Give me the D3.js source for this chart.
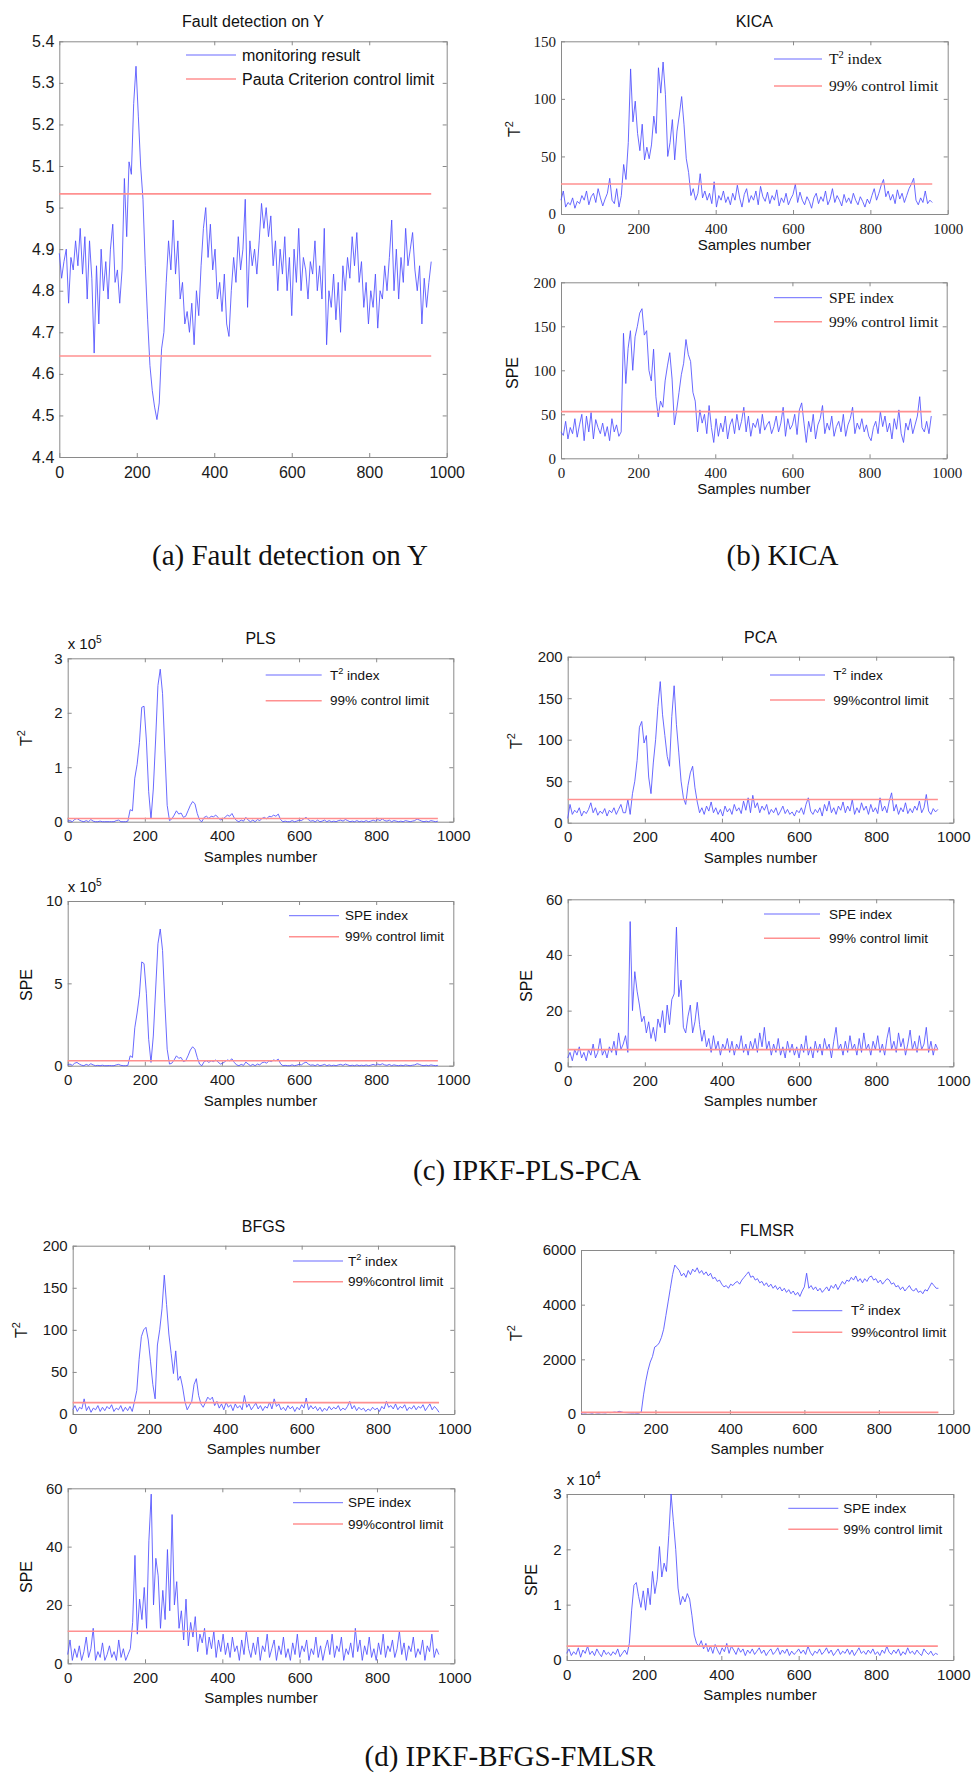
<!DOCTYPE html>
<html lang="en">
<head>
<meta charset="utf-8">
<script src="https://cdn.jsdelivr.net/npm/d3@7"></script>
<style>
  body { margin: 0; background: #fff; }
  .frame path.domain, .frame line { stroke: #8a8a8a; }
  .frame text { fill: #1a1a1a; }
</style>
</head>
<body>
<div id="chart"></div>
<script type="text/javascript">

    var svgWidth = 975;
    var svgHeight = 1774;

    /* one value every 6 samples, 0 .. 960 */
    var sampleStep = 6;
    var xTicks = [0, 200, 400, 600, 800, 1000];

    /* (a) monitoring result on Y */
    var faultY = [
        4.89, 4.83, 4.87, 4.90, 4.77, 4.88, 4.85, 4.92, 4.86, 4.95,
        4.84, 4.93, 4.78, 4.92, 4.83, 4.65, 4.86, 4.72, 4.90, 4.80,
        4.87, 4.78, 4.90, 4.96, 4.82, 4.85, 4.77, 4.85, 5.07, 4.93,
        5.11, 5.08, 5.25, 5.34, 5.22, 5.10, 5.02, 4.86, 4.73, 4.62,
        4.56, 4.52, 4.49, 4.53, 4.66, 4.70, 4.82, 4.92, 4.85, 4.97,
        4.84, 4.92, 4.78, 4.82, 4.72, 4.75, 4.70, 4.77, 4.67, 4.80,
        4.74, 4.86, 4.95, 5.00, 4.88, 4.96, 4.85, 4.90, 4.78, 4.82,
        4.75, 4.84, 4.72, 4.69, 4.80, 4.88, 4.82, 4.93, 4.85, 4.90,
        5.02, 4.76, 4.92, 4.86, 4.90, 4.84, 4.92, 5.01, 4.95, 5.00,
        4.93, 4.98, 4.86, 4.92, 4.80, 4.90, 4.84, 4.93, 4.80, 4.88,
        4.74, 4.90, 4.82, 4.95, 4.80, 4.88, 4.85, 4.78, 4.87, 4.84,
        4.92, 4.80, 4.86, 4.78, 4.95, 4.67, 4.80, 4.76, 4.84, 4.73,
        4.82, 4.70, 4.86, 4.80, 4.88, 4.83, 4.93, 4.86, 4.94, 4.82,
        4.87, 4.76, 4.82, 4.72, 4.80, 4.76, 4.84, 4.71, 4.80, 4.78,
        4.86, 4.80, 4.88, 4.97, 4.80, 4.90, 4.78, 4.88, 4.82, 4.95,
        4.86, 4.90, 4.94, 4.85, 4.80, 4.86, 4.72, 4.83, 4.76, 4.82,
        4.87];
    var faultLimits = [5.033, 4.643];

    /* (b) KICA */
    var kicaT2 = [
        12, 20, 6, 10, 8, 14, 5, 11, 9, 16,
        12, 20, 8, 15, 18, 10, 22, 14, 7, 13,
        18, 31, 12, 9, 22, 6, 16, 43, 30, 62,
        126, 80, 98, 70, 55, 78, 47, 58, 48, 60,
        85, 70, 127, 105, 132, 104, 50, 62, 82, 47,
        72, 86, 102, 78, 48, 36, 16, 22, 12, 18,
        35, 14, 20, 12, 18, 9, 28, 6, 16, 12,
        20, 10, 15, 8, 18, 12, 25, 14, 6, 17,
        22, 10, 16, 12, 20, 8, 24, 15, 11, 19,
        9, 16, 12, 21, 7, 14, 10, 18, 8, 13,
        17, 26, 10, 19, 12, 8, 15, 11, 5, 14,
        18, 9, 15, 11, 20, 8, 13, 22, 10, 16,
        12, 7, 17, 10, 14, 9, 18, 12, 8, 15,
        11, 6, 13, 9, 16, 22, 12, 18, 25, 30,
        15, 20, 12, 17, 9, 21, 13, 18, 10, 16,
        22, 26, 31, 12, 8, 14, 10, 20, 9, 12,
        10];
    var kicaSPE = [
        30, 26, 42, 22, 35, 28, 45, 24, 38, 50,
        20, 48, 30, 52, 22, 44, 35, 28, 40, 25,
        36, 20, 45, 30, 38, 25, 30, 142, 85, 125,
        145, 100, 138, 150, 165, 170, 140, 145, 100, 88,
        124, 70, 47, 65, 58, 88, 105, 120, 90, 38,
        55, 75, 95, 108, 135, 118, 110, 75, 65, 30,
        55, 40, 50, 28, 60, 35, 18, 45, 25, 40,
        30, 48, 22, 38, 45, 28, 50, 32, 42, 58,
        30, 48, 25, 40, 35, 45, 28, 50, 32, 38,
        42, 28, 36, 48, 30, 40, 58, 25, 45, 33,
        38, 50, 27, 55, 63, 40, 18, 42, 30, 50,
        22, 38, 45, 60, 28, 40, 32, 48, 25, 36,
        42, 30, 50, 25, 38, 45, 58, 28, 40, 33,
        45, 30, 38, 25, 20, 35, 42, 28, 53, 36,
        48, 30, 40, 22, 45, 33, 55, 28, 18, 40,
        32, 45, 28, 38, 48, 70, 35, 30, 42, 28,
        48];
    var kicaLimits = [26, 53];

    /* (c) PLS, values in units of 1e5 */
    var plsT2 = [
        0.01, 0.02, 0.0, 0.04, 0.06, 0.03, 0.01, 0.0, 0.02, 0.0,
        0.04, 0.01, 0.0, 0.0, 0.01, 0.0, 0.0, 0.0, 0.0, 0.0,
        0.0, 0.02, 0.03, 0.0, 0.0, 0.0, 0.01, 0.22, 0.2, 0.8,
        1.05, 1.45, 2.1, 2.12, 1.5, 0.55, 0.05, 0.6, 1.5, 2.5,
        2.8, 2.35, 1.3, 0.3, 0.02, 0.05, 0.12, 0.2, 0.14, 0.16,
        0.08, 0.1, 0.2, 0.3, 0.37, 0.33, 0.15, 0.03, 0.0, 0.08,
        0.1, 0.06, 0.1, 0.09, 0.12, 0.08, 0.03, 0.05, 0.08, 0.12,
        0.1, 0.15, 0.07, 0.02, 0.0, 0.03, 0.01, 0.08, 0.03, 0.0,
        0.03, 0.0, 0.04, 0.02, 0.06, 0.08, 0.05, 0.1, 0.09, 0.12,
        0.1, 0.14, 0.04, 0.0, 0.01, 0.0, 0.0, 0.02, 0.0, 0.01,
        0.03, 0.02, 0.05, 0.08, 0.04, 0.01, 0.02, 0.0, 0.03, 0.0,
        0.01, 0.03, 0.0, 0.02, 0.0, 0.01, 0.0, 0.02, 0.03, 0.01,
        0.04, 0.02, 0.0, 0.01, 0.0, 0.02, 0.0, 0.01, 0.0, 0.02,
        0.0, 0.01, 0.03, 0.01, 0.04, 0.02, 0.05, 0.02, 0.01, 0.03,
        0.0, 0.02, 0.01, 0.0, 0.01, 0.0, 0.02, 0.01, 0.0, 0.01,
        0.02, 0.05, 0.03, 0.01, 0.0, 0.01, 0.0, 0.02, 0.01, 0.0,
        0.01];
    var plsSPE = [
        0.05, 0.1, 0.02, 0.15, 0.2, 0.1, 0.03, 0.0, 0.08, 0.02,
        0.12, 0.05, 0.0, 0.02, 0.0, 0.03, 0.0, 0.0, 0.01, 0.0,
        0.0, 0.05, 0.08, 0.02, 0.0, 0.0, 0.02, 0.6, 0.5, 2.3,
        3.2, 4.3, 6.3, 6.2, 4.4, 1.6, 0.2, 1.8, 4.6, 7.4,
        8.3, 7.0, 3.8, 1.0, 0.1, 0.15, 0.35, 0.6, 0.45, 0.5,
        0.25, 0.3, 0.6, 0.95, 1.15, 1.0, 0.5, 0.1, 0.0, 0.25,
        0.3, 0.2, 0.3, 0.25, 0.35, 0.22, 0.1, 0.15, 0.25, 0.35,
        0.3, 0.42, 0.2, 0.05, 0.0, 0.08, 0.02, 0.22, 0.1, 0.0,
        0.08, 0.0, 0.1, 0.05, 0.18, 0.22, 0.15, 0.3, 0.25, 0.35,
        0.3, 0.4, 0.12, 0.0, 0.02, 0.0, 0.0, 0.05, 0.0, 0.03,
        0.08, 0.05, 0.15, 0.22, 0.1, 0.03, 0.05, 0.0, 0.08, 0.0,
        0.03, 0.08, 0.0, 0.05, 0.0, 0.03, 0.0, 0.05, 0.08, 0.02,
        0.1, 0.05, 0.0, 0.03, 0.0, 0.05, 0.0, 0.03, 0.0, 0.05,
        0.0, 0.03, 0.08, 0.03, 0.1, 0.05, 0.12, 0.05, 0.02, 0.08,
        0.0, 0.05, 0.02, 0.0, 0.03, 0.0, 0.05, 0.02, 0.0, 0.03,
        0.05, 0.12, 0.08, 0.02, 0.0, 0.03, 0.0, 0.05, 0.02, 0.0,
        0.02];
    var plsLimits = [0.06, 0.3];

    /* (c) PCA */
    var pcaT2 = [
        5, 22, 10, 15, 12, 18, 8, 14, 11, 16,
        24, 12, 18, 9, 14, 11, 17, 8, 15, 12,
        18, 10, 16, 22, 12, 12, 28, 10, 35, 50,
        75, 115, 122, 96, 105, 55, 35, 72, 100, 140,
        170, 130, 105, 80, 68, 128, 165, 118, 85, 50,
        30, 22, 45, 60, 68, 42, 25, 12, 18, 10,
        20, 14, 25, 12, 18, 10, 16, 8, 20, 13,
        17, 10, 22, 14, 18, 11, 26, 15, 30, 12,
        33, 18, 24, 12, 20, 15, 22, 10, 16, 12,
        18, 9, 14, 20, 11, 16, 10, 13, 8, 15,
        12, 18, 10, 22, 30, 14, 10, 16, 12, 18,
        8, 22, 14, 26, 12, 18, 10, 20, 15, 25,
        12, 20, 14, 28, 10, 18, 12, 24, 15, 20,
        10, 22, 13, 18, 11, 30, 14, 20, 12, 26,
        36, 14, 22, 10, 18, 13, 24, 11, 17, 12,
        20, 15, 26, 12, 18, 34, 14, 10, 17, 13,
        16];
    var pcaSPE = [
        3, 5, 2, 6, 4, 7, 3, 5, 2, 6,
        4, 8, 3, 5, 10, 4, 6, 3, 7, 5,
        9, 4, 12, 6, 8, 11, 5, 52, 20, 34,
        27, 22, 16, 18, 12, 16, 10, 14, 9, 17,
        14, 20, 12, 22, 15, 24, 26, 50, 25, 31,
        14, 12, 18, 22, 12, 16, 23, 15, 9, 13,
        7, 10, 5, 11, 6, 9, 4, 8, 6, 10,
        5, 9, 4, 8, 6, 11, 5, 8, 4, 9,
        6, 10, 5, 12, 7, 14, 6, 9, 4, 8,
        5, 10, 4, 7, 3, 9, 5, 8, 4, 7,
        3, 8, 5, 11, 4, 7, 3, 9, 5, 8,
        4, 10, 6, 8, 3, 9, 14, 6, 8, 4,
        9, 5, 11, 6, 8, 4, 10, 5, 12, 6,
        8, 4, 9, 6, 11, 5, 8, 4, 10, 14,
        6, 9, 5, 12, 7, 10, 4, 8, 13, 6,
        9, 5, 11, 6, 8, 14, 5, 9, 4, 8,
        6];
    var pcaLimits = [28, 6];

    /* (d) BFGS */
    var bfgsT2 = [
        5, 10, 3, 8, 6, 18, 4, 9, 2, 7,
        5, 10, 3, 8, 4, 9, 6, 11, 3, 7,
        5, 10, 3, 8, 4, 9, 3, 15, 28, 65,
        92, 100, 103, 88, 62, 35, 18, 82, 100, 125,
        165, 130, 95, 72, 48, 75, 40, 45, 32, 15,
        5, 10, 15, 35, 42, 22, 12, 8, 14, 20,
        17, 20, 10, 15, 7, 12, 5, 14, 8, 11,
        4, 12, 7, 10, 5, 22, 8, 12, 5, 9,
        13, 6, 10, 4, 9, 7, 14, 6, 18, 9,
        12, 5, 8, 4, 10, 6, 9, 3, 8, 5,
        11, 7, 19, 5, 10, 6, 9, 4, 8, 3,
        7, 4, 9, 5, 8, 6, 10, 4, 7, 5,
        9, 15, 6, 10, 4, 8, 5, 7, 3, 6,
        4, 8, 5, 7, 3, 9, 6, 15, 8, 10,
        6, 12, 5, 9, 7, 11, 4, 8, 6, 10,
        5, 9, 7, 11, 4, 8, 12, 5, 9, 6,
        2];
    var bfgsSPE = [
        3, 8, 1, 5, 2, 6, 1, 4, 9, 2,
        5, 12, 1, 4, 2, 7, 1, 3, 6, 2,
        4, 1, 8, 2, 5, 1, 3, 5, 14, 37,
        10, 22, 15, 26, 12, 42, 58, 20, 36, 30,
        12, 25, 15, 39, 18, 51, 20, 28, 12, 18,
        8, 22, 6, 14, 9, 16, 4, 10, 7, 12,
        3, 9, 5, 11, 2, 8, 4, 10, 3, 7,
        2, 9, 4, 6, 1, 8, 3, 11, 5, 2,
        7, 3, 9, 1, 6, 4, 10, 2, 5, 8,
        1, 6, 3, 9, 2, 5, 1, 7, 3, 10,
        2, 6, 4, 8, 1, 5, 3, 9, 2, 6,
        1, 5, 8, 3, 10, 2, 6, 4, 9, 1,
        5, 3, 7, 2, 12, 4, 8, 1, 6, 3,
        9, 2, 5, 1, 7, 3, 10, 2, 6, 4,
        8, 2, 5, 11, 3, 7, 1, 6, 4, 9,
        2, 5, 3, 8, 1, 6, 4, 10, 2, 5,
        3];
    var bfgsLimits = [13.5, 11];

    /* (d) FLMSR, SPE in units of 1e4 */
    var flmsrT2 = [
        30, 40, 35, 50, 45, 30, 55, 40, 35, 50,
        45, 40, 60, 50, 55, 70, 60, 100, 80, 55,
        50, 45, 40, 35, 40, 30, 35, 80, 700, 1200,
        1600, 1900, 2100, 2450, 2500, 2600, 2800, 3100, 3600, 4100,
        4600, 5100, 5450, 5350, 5250, 5050, 5150, 5000, 5250, 5100,
        5300, 5200, 5350, 5150, 5250, 5100, 5200, 5050, 5150, 4950,
        5000, 4850, 4900, 4750, 4650, 4700, 4600, 4750, 4700, 4800,
        4850, 4750, 4900, 5000, 5100, 5200, 5000, 5050, 4900, 4950,
        4800, 4850, 4700, 4800, 4650, 4750, 4600, 4700, 4550, 4650,
        4500, 4600, 4450, 4550, 4400, 4500, 4350, 4450, 4300, 4500,
        4650, 5150, 4600, 4700, 4550, 4650, 4500, 4600, 4450, 4550,
        4650, 4500, 4700, 4600, 4750, 4550, 4700, 4850, 4750, 4900,
        4850, 5000, 4900, 5050, 4850, 4950, 4800, 4950, 4850, 5000,
        5050, 4900, 4950, 4800, 4900, 4750, 4850, 4950, 4900, 4750,
        4800, 4650, 4700, 4550, 4650, 4500, 4600, 4700, 4550, 4500,
        4600, 4450, 4500, 4400, 4550, 4500, 4650, 4800, 4700, 4600,
        4600];
    var flmsrSPE = [
        0.12, 0.2, 0.08, 0.15, 0.1, 0.22, 0.05, 0.18, 0.12, 0.25,
        0.1, 0.16, 0.08, 0.2, 0.12, 0.06, 0.18, 0.1, 0.14, 0.08,
        0.15, 0.1, 0.2, 0.06, 0.12, 0.18, 0.1, 0.3, 0.9, 1.35,
        1.4, 1.15, 0.95, 1.25, 0.9, 1.3, 1.0, 1.6, 1.2, 1.45,
        2.05, 1.5, 1.75, 1.6, 2.25, 3.0, 2.5, 2.0, 1.3, 1.0,
        1.15, 1.05, 1.2, 1.1, 0.8, 0.45, 0.3, 0.25, 0.35, 0.2,
        0.3, 0.15, 0.25, 0.12, 0.28, 0.18, 0.1, 0.22, 0.15, 0.3,
        0.12, 0.25, 0.18, 0.1, 0.22, 0.14, 0.2, 0.08, 0.18, 0.12,
        0.2, 0.1, 0.16, 0.22, 0.12, 0.18, 0.08, 0.15, 0.2, 0.1,
        0.15, 0.22, 0.1, 0.18, 0.12, 0.2, 0.08, 0.16, 0.1, 0.14,
        0.2, 0.12, 0.18, 0.1, 0.25, 0.14, 0.08, 0.16, 0.12, 0.2,
        0.1, 0.15, 0.22, 0.12, 0.18, 0.08, 0.14, 0.2, 0.1, 0.16,
        0.12, 0.2, 0.1, 0.18, 0.08, 0.15, 0.22, 0.12, 0.16, 0.1,
        0.18, 0.12, 0.2, 0.1, 0.15, 0.08, 0.18, 0.12, 0.25, 0.14,
        0.1, 0.18, 0.12, 0.2, 0.08, 0.15, 0.1, 0.22, 0.12, 0.16,
        0.1, 0.18, 0.12, 0.08, 0.2, 0.14, 0.1, 0.16, 0.08, 0.12,
        0.1];
    var flmsrLimits = [60, 0.25];

    var captions = ["(a) Fault detection on Y", "(b) KICA", "(c) IPKF-PLS-PCA", "(d) IPKF-BFGS-FMLSR"];

    var sans = "Arial, 'Liberation Sans', Helvetica, sans-serif";
    var serif = "'Times New Roman', 'Liberation Serif', Times, serif";
    var blue = "#4f4fff";
    var red = "#ff9090";

    var svg = d3.select("#chart").append("svg")
            .attr("width", svgWidth)
            .attr("height", svgHeight)
            .style("background", "#fff");

    /* plain strings, or {raise: "2"} for a superscript; the text after a
       superscript drops back to the baseline */
    function richText(sel, parts, size) {
        var back = 0;
        parts.forEach(function(p) {
            if (typeof p === "string") {
                var s = sel.append("tspan").text(p);
                if (back) s.attr("dy", back);
                back = 0;
            } else {
                sel.append("tspan").attr("font-size", size * 0.68).attr("dy", -size * 0.42).text(p.raise);
                back = size * 0.42;
            }
        });
    }

    function drawPanel(o) {
        var x = d3.scaleLinear().domain([0, 1000]).range([o.l, o.r]);
        var y = d3.scaleLinear().domain([o.yTicks[0], o.yTicks[o.yTicks.length - 1]]).range([o.b, o.t]);
        var tickFont = o.tickFont || sans;
        var fmt = d3.format("~g");

        var g = svg.append("g");

        /* frame + ticks on all four sides, pointing inward */
        var axes = [
            {axis: d3.axisBottom(x).tickValues(xTicks).tickFormat(fmt).tickPadding(o.xPad || 9), tr: "translate(0," + o.b + ")"},
            {axis: d3.axisTop(x).tickValues(xTicks).tickFormat(""), tr: "translate(0," + o.t + ")"},
            {axis: d3.axisLeft(y).tickValues(o.yTicks).tickFormat(fmt).tickPadding(5), tr: "translate(" + o.l + ",0)"},
            {axis: d3.axisRight(y).tickValues(o.yTicks).tickFormat(""), tr: "translate(" + o.r + ",0)"}
        ];
        axes.forEach(function(a) {
            g.append("g")
                    .attr("class", "frame")
                    .attr("transform", a.tr)
                    .call(a.axis.tickSizeInner(-4).tickSizeOuter(0))
                    .attr("font-family", tickFont)
                    .attr("font-size", o.tickSize || 15);
        });

        /* monitoring statistic */
        var line = d3.line()
                .x(function(d, i) { return x(i * sampleStep); })
                .y(function(d) { return y(d); });

        g.append("path")
                .datum(o.values)
                .attr("d", line)
                .attr("fill", "none")
                .attr("stroke", blue)
                .attr("stroke-width", 0.85)
                .attr("stroke-linejoin", "round");

        /* control limit(s) */
        o.limits.forEach(function(v) {
            g.append("line")
                    .attr("x1", x(0)).attr("x2", x((o.values.length - 1) * sampleStep))
                    .attr("y1", y(v)).attr("y2", y(v))
                    .attr("stroke", red)
                    .attr("stroke-width", 1.6);
        });

        /* legend */
        var lf = o.legFont || sans;
        o.legend.forEach(function(item, i) {
            var ly = o.legY[i];
            g.append("line")
                    .attr("x1", o.legX[0]).attr("x2", o.legX[1])
                    .attr("y1", ly).attr("y2", ly)
                    .attr("stroke", i === 0 ? blue : red)
                    .attr("stroke-width", i === 0 ? 0.85 : 1.6);
            var t = g.append("text")
                    .attr("x", o.legX[2]).attr("y", ly)
                    .attr("dy", "0.35em")
                    .attr("font-family", lf)
                    .attr("font-size", o.legSize)
                    .attr("fill", "#111");
            richText(t, item, o.legSize);
        });

        /* title */
        if (o.title) {
            g.append("text")
                    .attr("x", (o.l + o.r) / 2).attr("y", o.t - 14)
                    .attr("text-anchor", "middle")
                    .attr("font-family", sans).attr("font-size", 16)
                    .attr("fill", "#111")
                    .text(o.title);
        }

        /* x 10^n */
        if (o.expo) {
            var e = g.append("text")
                    .attr("x", o.expoX || o.l).attr("y", o.t - 9)
                    .attr("font-family", sans).attr("font-size", 15)
                    .attr("fill", "#111");
            richText(e, ["x 10", {raise: o.expo}], 15);
        }

        /* y label */
        if (o.yLabel) {
            var yl = g.append("text")
                    .attr("transform", "translate(" + o.yLabel[0] + "," + o.yLabel[1] + ") rotate(-90)")
                    .attr("text-anchor", "middle")
                    .attr("font-family", sans).attr("font-size", 16)
                    .attr("fill", "#111");
            richText(yl, o.yLabel[2], 16);
        }

        /* x label */
        if (o.xLabel) {
            g.append("text")
                    .attr("x", (o.l + o.r) / 2).attr("y", o.b + o.xLabel)
                    .attr("text-anchor", "middle")
                    .attr("font-family", sans).attr("font-size", 15)
                    .attr("fill", "#111")
                    .text("Samples number");
        }
    }

    var T2 = ["T", {raise: "2"}];
    var T2idx = ["T", {raise: "2"}, " index"];

    /* (a) */
    drawPanel({l: 59.3, r: 446.7, t: 41.3, b: 457, values: faultY, limits: faultLimits,
        yTicks: [4.4, 4.5, 4.6, 4.7, 4.8, 4.9, 5, 5.1, 5.2, 5.3, 5.4], tickSize: 16, xPad: 10,
        title: "Fault detection on Y",
        legend: [["monitoring result"], ["Pauta Criterion control limit"]],
        legX: [186, 236, 242], legY: [55, 79], legSize: 16});

    /* (b) KICA */
    drawPanel({l: 561, r: 947.7, t: 41.3, b: 214, values: kicaT2, limits: [kicaLimits[0]],
        yTicks: [0, 50, 100, 150], tickFont: serif, tickSize: 15,
        title: "KICA", yLabel: [520, 129, T2], xLabel: 36,
        legend: [T2idx, ["99% control limit"]], legFont: serif,
        legX: [774, 822, 829], legY: [59, 86], legSize: 15.5});
    drawPanel({l: 561, r: 946.7, t: 282.3, b: 458.3, values: kicaSPE, limits: [kicaLimits[1]],
        yTicks: [0, 50, 100, 150, 200], tickFont: serif, tickSize: 15,
        yLabel: [518, 373, ["SPE"]], xLabel: 36,
        legend: [["SPE index"], ["99% control limit"]], legFont: serif,
        legX: [774, 822, 829], legY: [297.7, 321.7], legSize: 15.5});

    /* (c) PLS / PCA */
    drawPanel({l: 67.7, r: 453.3, t: 658.3, b: 821.7, values: plsT2, limits: [plsLimits[0]],
        yTicks: [0, 1, 2, 3], title: "PLS", expo: "5", yLabel: [31.7, 738, T2], xLabel: 40,
        legend: [T2idx, ["99% control limit"]],
        legX: [265.7, 321.7, 330], legY: [675, 700.7], legSize: 13.5});
    drawPanel({l: 67.7, r: 453.3, t: 901, b: 1065.7, values: plsSPE, limits: [plsLimits[1]],
        yTicks: [0, 5, 10], expo: "5", yLabel: [31.7, 985, ["SPE"]], xLabel: 40,
        legend: [["SPE index"], ["99% control limit"]],
        legX: [289, 339, 345], legY: [915.7, 936.7], legSize: 13.5});
    drawPanel({l: 567.7, r: 953.3, t: 656.7, b: 822.7, values: pcaT2, limits: [pcaLimits[0]],
        yTicks: [0, 50, 100, 150, 200], title: "PCA", yLabel: [521.7, 741, T2], xLabel: 40,
        legend: [T2idx, ["99%control limit"]],
        legX: [770, 825, 833.3], legY: [675, 700], legSize: 13.5});
    drawPanel({l: 567.7, r: 953.3, t: 899.3, b: 1066.3, values: pcaSPE, limits: [pcaLimits[1]],
        yTicks: [0, 20, 40, 60], yLabel: [531.7, 986, ["SPE"]], xLabel: 40,
        legend: [["SPE index"], ["99% control limit"]],
        legX: [764, 820, 829], legY: [914, 938.3], legSize: 13.5});

    /* (d) BFGS / FLMSR */
    drawPanel({l: 72.7, r: 454.3, t: 1245.7, b: 1414, values: bfgsT2, limits: [bfgsLimits[0]],
        yTicks: [0, 50, 100, 150, 200], title: "BFGS", yLabel: [27, 1330, T2], xLabel: 40,
        legend: [T2idx, ["99%control limit"]],
        legX: [293, 343, 348], legY: [1261, 1281.7], legSize: 13.5});
    drawPanel({l: 67.7, r: 454.3, t: 1488.3, b: 1663.3, values: bfgsSPE, limits: [bfgsLimits[1]],
        yTicks: [0, 20, 40, 60], yLabel: [31.7, 1577, ["SPE"]], xLabel: 40,
        legend: [["SPE index"], ["99%control limit"]],
        legX: [293, 343, 348], legY: [1502.7, 1524], legSize: 13.5});
    drawPanel({l: 581, r: 953.3, t: 1250, b: 1414, values: flmsrT2, limits: [flmsrLimits[0]],
        yTicks: [0, 2000, 4000, 6000], title: "FLMSR", yLabel: [521.7, 1333, T2], xLabel: 40,
        legend: [T2idx, ["99%control limit"]],
        legX: [792.3, 842.3, 851], legY: [1310.7, 1332.3], legSize: 13.5});
    drawPanel({l: 566.7, r: 953.3, t: 1494, b: 1660, values: flmsrSPE, limits: [flmsrLimits[1]],
        yTicks: [0, 1, 2, 3], expo: "4", yLabel: [536.7, 1580, ["SPE"]], xLabel: 40,
        legend: [["SPE index"], ["99% control limit"]],
        legX: [788.3, 838.3, 843.3], legY: [1508.3, 1529.3], legSize: 13.5});

    /* sub-figure captions */
    var capPos = [[290, 565], [782.5, 565], [527, 1180], [510, 1766]];
    svg.selectAll("text.caption")
            .data(captions)
            .enter()
            .append("text")
            .attr("class", "caption")
            .attr("x", function(d, i) { return capPos[i][0]; })
            .attr("y", function(d, i) { return capPos[i][1]; })
            .attr("text-anchor", "middle")
            .attr("font-family", serif)
            .attr("font-size", 29)
            .attr("fill", "#111")
            .text(function(d) { return d; });

</script>
</body>
</html>
